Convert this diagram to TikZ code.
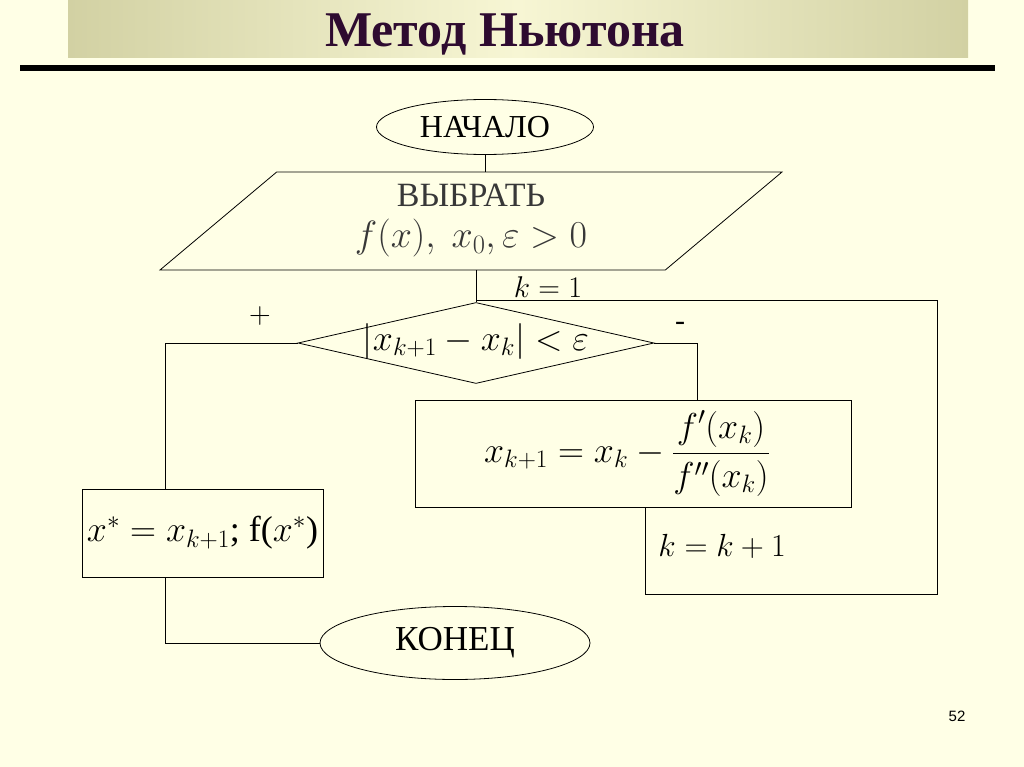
\RequirePackage{fix-cm}
\documentclass[tikz,border=0pt]{standalone}
\usepackage{amsmath}
\usepackage{fontspec}
\setmainfont{Liberation Serif}
\setsansfont{Liberation Sans}
\usetikzlibrary{shapes.geometric,positioning}
\definecolor{paper}{HTML}{FFFFE6}
\definecolor{barside}{HTML}{D2D1A3}
\definecolor{barmid}{HTML}{F7F6D4}
\definecolor{plum}{HTML}{2E0B30}
\definecolor{ink}{HTML}{383838}

\begin{document}
\begin{tikzpicture}[x=1pt, y=-1pt,
  term/.style={ellipse, draw, line width=0.8pt, inner sep=0pt, font=\fontsize{32}{36}\selectfont},
  io/.style={trapezium, trapezium left angle=32, trapezium right angle=148, trapezium stretches body=true,
             draw, line width=0.8pt, minimum width=622pt, minimum height=98pt, inner sep=0pt,
             align=center, text=ink, font=\fontsize{34}{41}\selectfont},
  test/.style={diamond, draw, aspect=4.4, inner sep=0pt, minimum width=356pt, minimum height=81pt, line width=0.8pt},
  proc/.style={rectangle, draw, line width=0.8pt, inner sep=0pt, font=\fontsize{36}{40}\selectfont},
  lbl/.style={inner sep=0pt, font=\fontsize{30}{32}\selectfont},
  link/.style={line width=0.8pt}
]
  % slide background and title
  \useasboundingbox (0,0) rectangle (1024,767);
  \fill[paper] (0,0) rectangle (1024,767);
  \shade[left color=barside, right color=barside, middle color=barmid] (68,0) rectangle (968,58);
  \draw[line width=6pt] (20,68) -- (995,68);
  \node[anchor=base, inner sep=0pt, font=\fontsize{50}{54}\selectfont\bfseries, text=plum] (title) at (505,47)
       {Метод Ньютона};

  % blocks
  \node[term, minimum width=217pt, minimum height=55pt] (start) at (485,127) {НАЧАЛО};
  \node[io] (sel) at (471,221) {ВЫБРАТЬ\\{\fontsize{38}{41}\selectfont$f(x),\ x_0, \varepsilon > 0$}};
  \node[test, label={[font=\fontsize{36}{38}\selectfont, yshift=2pt]center:$|x_{k+1} - x_k| < \varepsilon$}] (dia) at (476,343) {};
  \node[proc, minimum width=436pt, minimum height=107pt] (calc) at (633,453.5)
       {\hspace*{-12pt}$x_{k+1} = x_k - \dfrac{f'(x_k)}{f''(x_k)}$};
  \node[proc, minimum width=241pt, minimum height=88pt] (res) at (202.5,533) {$x^* = x_{k+1}$; f($x^*$)};
  \node[term, minimum width=270pt, minimum height=73pt, font=\fontsize{35}{38}\selectfont] (stop) at (455,643) {КОНЕЦ};

  % labels
  \node[lbl] (k1) at (548,287) {$k = 1$};
  \node[lbl, font=\fontsize{32}{34}\selectfont] (inc) at (722,546) {$k = k+1$};
  \node[lbl] (yes) at (260,316) {$+$};
  \node[lbl] (no) at (680,326) {-};
  \node[font=\sffamily\fontsize{15}{17}\selectfont] (page) at (957,716) {52};

  \coordinate (yesL) at (165,343);
  \coordinate (noR) at (697,343);
  \coordinate (incL) at (645,594);
  \coordinate (incR) at (937,594);
  \coordinate (loopR) at (937,300);

  % connectors
  \draw[link] (start.south) -- (start.south |- sel.north);
  \draw[link] (dia.north |- sel.south) -- (dia.north);
  \draw[link] (calc.south -| incL) -- (incL) -- (incR) -- (loopR) -- (loopR -| dia.north) -- (dia.north);
  \draw[link] (dia.west) -- (yesL) -- (yesL |- res.north);
  \draw[link] (dia.east) -- (noR) -- (noR |- calc.north);
  \draw[link] (yesL |- res.south) -- (yesL |- stop.west) -- (stop.west);
\end{tikzpicture}
\end{document}
